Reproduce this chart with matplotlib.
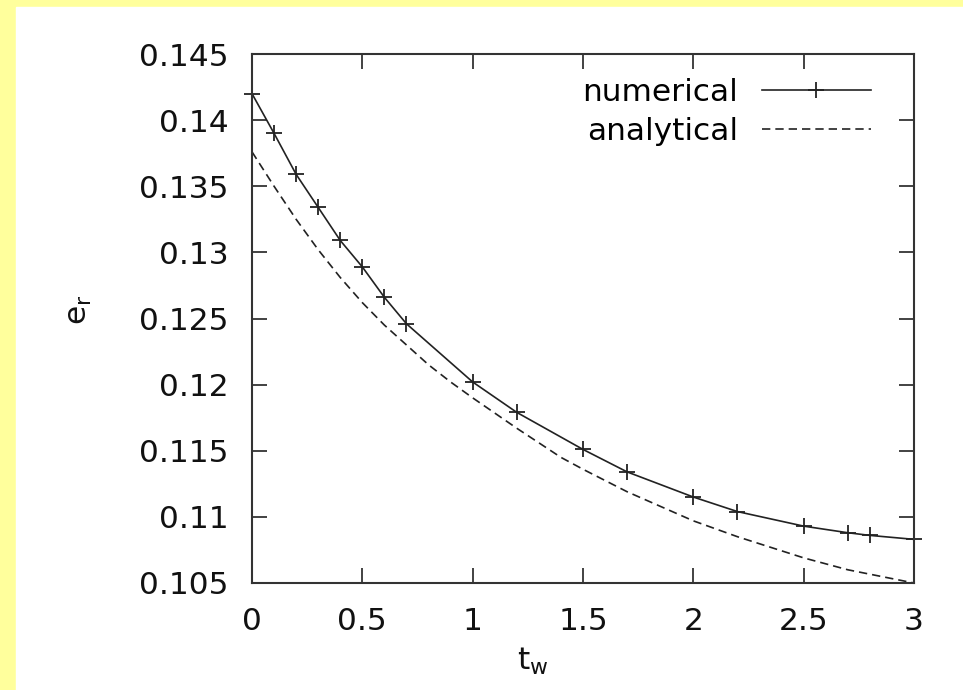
import numpy as np
import matplotlib.pyplot as plt
from matplotlib.patches import Rectangle

# numerical result (with + markers)
t_num = [0, 0.1, 0.2, 0.3, 0.4, 0.5, 0.6, 0.7, 1.0, 1.2, 1.5, 1.7, 2.0, 2.2, 2.5, 2.7, 2.8, 3.0]
e_num = [0.1420, 0.1390, 0.1359, 0.1334, 0.1309, 0.1289, 0.1266, 0.1246, 0.1202,
         0.1179, 0.1151, 0.1134, 0.1115, 0.1104, 0.1093, 0.1088, 0.1086, 0.1083]

# analytical curve
t_ana = [0, 0.1, 0.2, 0.3, 0.4, 0.5, 0.6, 0.7, 0.8, 0.9, 1.0, 1.2, 1.4, 1.5, 1.7, 2.0, 2.2, 2.5, 2.7, 3.0]
e_ana = [0.1376, 0.1350, 0.1325, 0.1302, 0.1281, 0.1262, 0.1245, 0.1230, 0.1215, 0.1202,
         0.1190, 0.1167, 0.1145, 0.1136, 0.1119, 0.1097, 0.1085, 0.1069, 0.1060, 0.1050]

xticks = [0, 0.5, 1, 1.5, 2, 2.5, 3]
xlabels = ['0', '0.5', '1', '1.5', '2', '2.5', '3']
yticks = [0.105, 0.11, 0.115, 0.12, 0.125, 0.13, 0.135, 0.14, 0.145]
ylabels = ['0.105', '0.11', '0.115', '0.12', '0.125', '0.13', '0.135', '0.14', '0.145']

plt.rcParams['font.family'] = ['DejaVu Sans']
plt.rcParams['mathtext.default'] = 'regular'
fs = 22.5
ink = '#222222'

W, H = 963, 690
fig = plt.figure(figsize=(W / 100, H / 100), dpi=100, facecolor='#ffff9c')
# white page inside the yellow frame
fig.patches.append(Rectangle((16 / W, 0), 1 - 16 / W, (H - 7) / H,
                             transform=fig.transFigure, color='white', zorder=-5))

ax = fig.add_axes([252 / W, (H - 583) / H, (914 - 252) / W, (583 - 54) / H])
ax.set_facecolor('white')

ax.plot(t_num, e_num, color=ink, lw=1.2, marker='+', ms=11, mew=1.3,
        clip_on=False, label='numerical')
ax.plot(t_ana, e_ana, color=ink, lw=1.2, ls=(0, (5, 3)), label='analytical')

ax.set_xlim(0, 3)
ax.set_ylim(0.105, 0.145)
ax.set_xticks(xticks)
ax.set_xticklabels(xlabels)
ax.set_yticks(yticks)
ax.set_yticklabels(ylabels)
ax.tick_params(direction='in', top=True, right=True, length=11, width=1.2,
               color=ink, labelsize=fs, labelcolor='#111111')
ax.tick_params(axis='x', pad=17)
ax.tick_params(axis='y', pad=17)
for s in ax.spines.values():
    s.set_linewidth(1.5)
    s.set_color('#333333')

leg = ax.legend(loc='upper right', bbox_to_anchor=(0.935, 0.954), frameon=False,
                markerfirst=False, numpoints=1, fontsize=fs, handlelength=3.5,
                handletextpad=0.75, labelspacing=0.31, borderpad=0, borderaxespad=0)

fig.text(80 / W, (H - 310) / H, '$e_r$', rotation=90, ha='center', va='center',
         fontsize=fs, color='#111111')
fig.text(533 / W, (H - 670) / H, '$t_w$', ha='center', va='baseline',
         fontsize=fs, color='#111111')

fig.savefig('out.png', dpi=100, facecolor=fig.get_facecolor())
